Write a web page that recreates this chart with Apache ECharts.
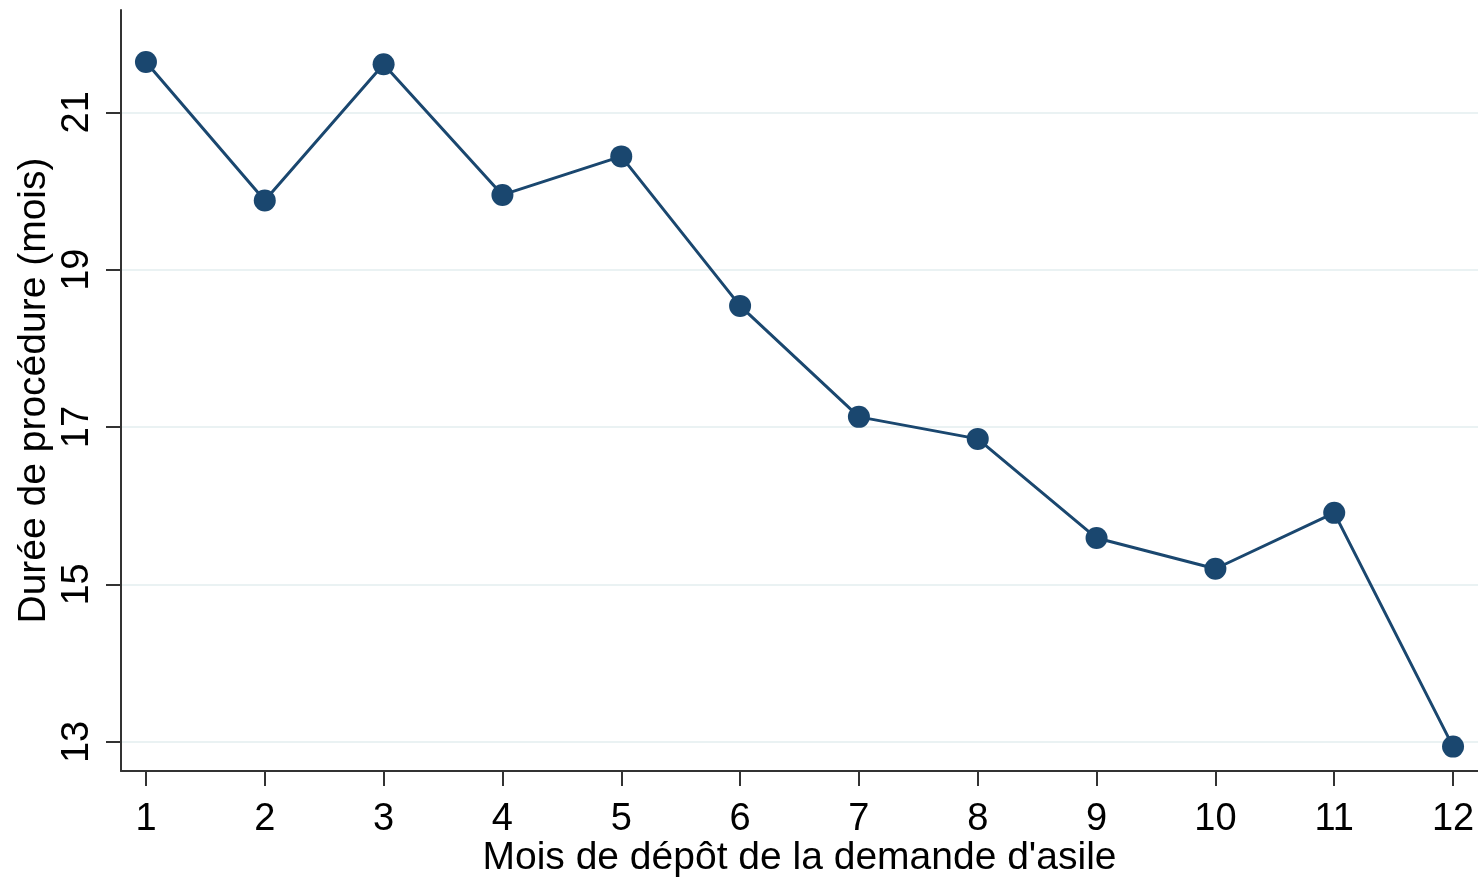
<!DOCTYPE html>
<html>
<head>
<meta charset="utf-8">
<script src="https://cdn.jsdelivr.net/npm/echarts@6/dist/echarts.min.js"></script>
<style>
  html, body { margin: 0; padding: 0; background: #fff; }
  #chart { width: 1478px; height: 877px; }
</style>
</head>
<body>
<div id="chart"></div>
<script>
  // mois de dépôt et durée moyenne (mois)
  var months = [1, 2, 3, 4, 5, 6, 7, 8, 9, 10, 11, 12]
  var durations = [21.64, 19.88, 21.61, 19.95, 20.44, 18.54, 17.13, 16.85, 15.59, 15.20, 15.91, 12.94]
  var yTicks = [13, 15, 17, 19, 21]
  var xTicks = [1, 2, 3, 4, 5, 6, 7, 8, 9, 10, 11, 12]

  var navy = '#1a476f'
  var font = 'Liberation Sans, Arial, sans-serif'

  var myChart = echarts.init(document.getElementById('chart'))
  var option = {
    animation: false,
    grid: {
      left: 121,
      right: 0,
      top: 10,
      bottom: 106,
      containLabel: false,
      outerBoundsMode: 'none'
    },
    xAxis: {
      type: 'value',
      min: 0.79,
      max: 12.21,
      name: 'Mois de dépôt de la demande d\'asile',
      nameLocation: 'middle',
      nameGap: 68,
      nameMoveOverlap: false,
      nameTextStyle: { color: '#000', fontSize: 39, fontFamily: font },
      axisLine: { show: true, lineStyle: { color: '#333', width: 2 } },
      axisTick: { show: true, length: 15, lineStyle: { color: '#333', width: 2 }, customValues: xTicks },
      axisLabel: { color: '#000', fontSize: 38, fontFamily: font, margin: 30, customValues: xTicks },
      splitLine: { show: false }
    },
    yAxis: {
      type: 'value',
      min: 12.63,
      max: 22.3,
      name: 'Durée de procédure (mois)',
      nameLocation: 'middle',
      nameGap: 67,
      nameRotate: 90,
      nameMoveOverlap: false,
      nameTextStyle: { color: '#000', fontSize: 39, fontFamily: font },
      axisLine: { show: true, lineStyle: { color: '#333', width: 2 } },
      axisTick: { show: true, length: 15, lineStyle: { color: '#333', width: 2 }, customValues: yTicks },
      axisLabel: { color: '#000', fontSize: 38, fontFamily: font, rotate: 90, margin: 24, customValues: yTicks },
      splitLine: { show: true, lineStyle: { color: '#eaf2f3', width: 2 } }
    },
    series: [{
      type: 'line',
      data: months.map(function (m, i) { return [m, durations[i]] }),
      symbol: 'circle',
      symbolSize: 22,
      lineStyle: { color: navy, width: 3 },
      itemStyle: { color: navy },
      z: 3
    }]
  }
  myChart.setOption(option)
</script>
</body>
</html>
